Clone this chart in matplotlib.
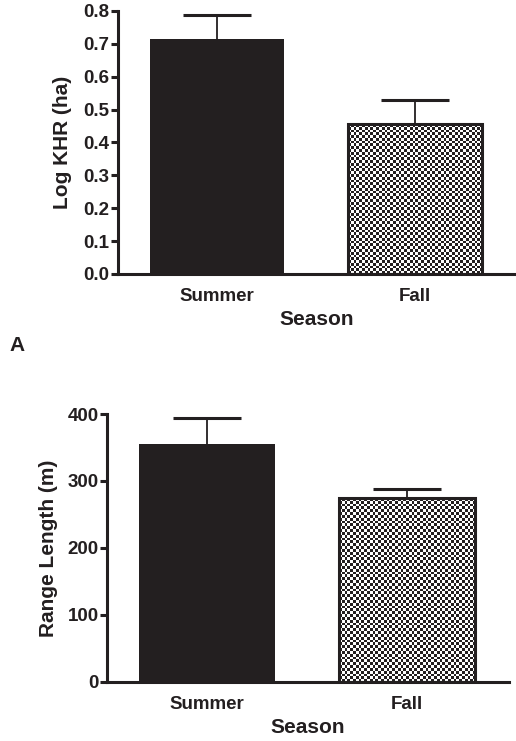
import matplotlib
matplotlib.use('Agg')
import matplotlib.pyplot as plt
from matplotlib.colors import ListedColormap
import numpy as np

seasons = ['Summer', 'Fall']
log_khr = [0.714, 0.456]
log_khr_se = [0.075, 0.073]
range_len = [355, 274]
range_len_se = [39, 14]

plt.rcParams['font.family'] = ['Liberation Sans', 'DejaVu Sans']
plt.rcParams['font.weight'] = 'bold'
plt.rcParams['axes.labelweight'] = 'bold'
ink = '#231f20'

fig = plt.figure(figsize=(5.16, 7.41), dpi=100)


def checker(ax, bar, cell=2.8):
    # fill a bar with a checkerboard, cell size in pixels
    x0, w, h = bar.get_x(), bar.get_width(), bar.get_height()
    p0 = ax.transData.transform((x0, 0))
    p1 = ax.transData.transform((x0 + w, h))
    nx = max(int(round((p1[0] - p0[0]) / cell)), 1)
    ny = max(int(round((p1[1] - p0[1]) / cell)), 1)
    grid = np.add.outer(np.arange(ny), np.arange(nx)) % 2
    ax.imshow(grid, cmap=ListedColormap(['white', ink]), extent=(x0, x0 + w, 0, h),
              interpolation='nearest', aspect='auto', zorder=2)


def panel(rect, vals, errs, ylim, yticks, fmt, ylabel, labelpad):
    ax = fig.add_axes(rect)
    pos = np.arange(len(seasons))
    vals = np.asarray(vals)
    errs = np.asarray(errs)
    xlim = (-0.5, 1.51)
    ax.set_xlim(*xlim)
    ax.set_ylim(*ylim)
    bars = ax.bar(pos, vals, width=0.68, color=[ink, 'none'], edgecolor=ink,
                  linewidth=[0, 2.2], zorder=3)
    # upper error bars only
    ax.vlines(pos, vals, vals + errs, color=ink, lw=1.3, zorder=2)
    ax.hlines(vals + errs, pos - 0.17, pos + 0.17, color=ink, lw=2.2, zorder=2)
    checker(ax, bars[1])
    ax.set_xlim(*xlim)
    ax.set_ylim(*ylim)
    for s in ['top', 'right']:
        ax.spines[s].set_visible(False)
    for s in ['left', 'bottom']:
        ax.spines[s].set_linewidth(2.2)
        ax.spines[s].set_color(ink)
    ax.set_yticks(yticks)
    ax.set_yticklabels([fmt % t for t in yticks])
    ax.set_xticks(pos)
    ax.set_xticklabels(seasons)
    ax.tick_params(axis='y', length=5, width=2.2, color=ink, labelcolor=ink,
                   labelsize=13.5, pad=1)
    ax.tick_params(axis='x', length=0, labelcolor=ink, labelsize=13.5, pad=10)
    ax.set_xlabel('Season', fontsize=15, color=ink, labelpad=4)
    ax.set_ylabel(ylabel, fontsize=15, color=ink, labelpad=labelpad)
    return ax


panel([118 / 516, 1 - 274 / 741, 398 / 516, 263 / 741], log_khr, log_khr_se,
      (0, 0.8), np.arange(0, 0.81, 0.1), '%.1f', 'Log KHR (ha)', 8)
panel([107 / 516, 1 - 681.7 / 741, 402 / 516, 267.7 / 741], range_len, range_len_se,
      (0, 400), np.arange(0, 401, 100), '%d', 'Range Length (m)', 7)

fig.text(0.018, 1 - 345 / 741, 'A', fontsize=15, color=ink, va='center', ha='left')

plt.savefig('out.png', dpi=100)
